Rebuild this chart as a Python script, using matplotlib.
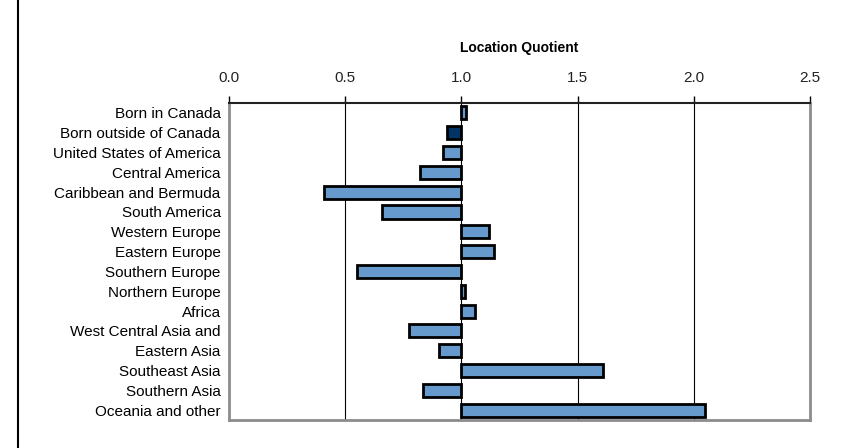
import matplotlib
matplotlib.use("Agg")
import matplotlib.pyplot as plt
from matplotlib.lines import Line2D

plt.rcParams["font.family"] = ["Liberation Sans Narrow", "Liberation Sans", "DejaVu Sans"]

regions = [
    "Born in Canada", "Born outside of Canada", "United States of America",
    "Central America", "Caribbean and Bermuda", "South America",
    "Western Europe", "Eastern Europe", "Southern Europe", "Northern Europe",
    "Africa", "West Central Asia and", "Eastern Asia", "Southeast Asia",
    "Southern Asia", "Oceania and other",
]
quotients = [1.02, 0.94, 0.92, 0.82, 0.41, 0.66, 1.12, 1.14, 0.55, 1.015,
             1.06, 0.775, 0.905, 1.61, 0.835, 2.05]
colors = ["#6699CC", "#003366"] + ["#6699CC"] * 14
ticks = [0.0, 0.5, 1.0, 1.5, 2.0, 2.5]

fig = plt.figure(figsize=(8.52, 4.48), dpi=100)
ax = fig.add_axes([0.2688, 0.0625, 0.6819, 0.7075])

y = list(range(len(regions)))
widths = [q - 1.0 for q in quotients]
ax.barh(y, widths, left=1.0, height=0.66, color=colors,
        edgecolor="black", linewidth=2, zorder=3)

ax.set_xlim(0, 2.5)
ax.set_ylim(len(regions) - 0.5, -0.5)
ax.set_xticks(ticks)
ax.set_xticklabels([f"{t:.1f}" for t in ticks], fontsize=11, color="#222222")
ax.xaxis.tick_top()
ax.xaxis.set_label_position("top")
ax.tick_params(axis="x", length=5, width=1, pad=8, colors="black",
               labelcolor="#222222")
ax.set_xlabel("Location Quotient", fontsize=10, fontweight="bold",
              family=["Liberation Sans", "DejaVu Sans"], labelpad=14)

ax.set_yticks(y)
ax.set_yticklabels(regions, fontsize=11)
ax.tick_params(axis="y", length=0, pad=6)

for t in ticks[1:-1]:
    ax.axvline(t, color="black", linewidth=0.8, zorder=1)

for side in ["left", "right", "bottom"]:
    ax.spines[side].set_color("#8c8c8c")
    ax.spines[side].set_linewidth(2)
ax.spines["top"].set_color("#222222")
ax.spines["top"].set_linewidth(1.5)

fig.add_artist(Line2D([0.021, 0.021], [0, 1], color="black", linewidth=1.5,
                      transform=fig.transFigure))

fig.savefig("out.png", dpi=100)
